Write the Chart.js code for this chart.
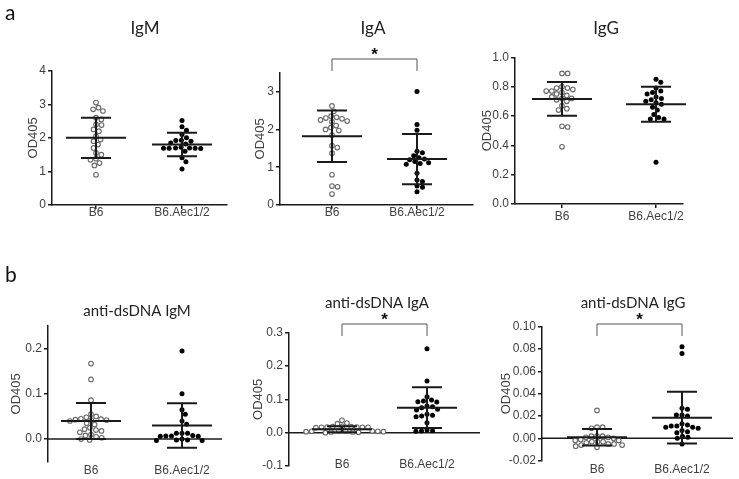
<!DOCTYPE html>
<html>
<head>
<meta charset="utf-8">
<script src="https://cdn.jsdelivr.net/npm/chart.js@4"></script>
<style>
body { margin: 0; background: #fff; }
#wrap { position: relative; width: 739px; height: 479px; overflow: hidden; }
#wrap canvas { position: absolute; left: 0; top: 0; }
.lbl { position: absolute; font: 21px Lato, sans-serif; color: #111; }
</style>
</head>
<body>
<div id="wrap">
  <canvas id="c0" width="739" height="479"></canvas>
  <canvas id="c1" width="739" height="479"></canvas>
  <canvas id="c2" width="739" height="479"></canvas>
  <canvas id="c3" width="739" height="479"></canvas>
  <canvas id="c4" width="739" height="479"></canvas>
  <canvas id="c5" width="739" height="479"></canvas>
  <div class="lbl" style="left:5px;top:-1px">a</div>
  <div class="lbl" style="left:5px;top:261px">b</div>
</div>
<script>
var groups = ["B6", "B6.Aec1/2"];
var titles = ["IgM", "IgA", "IgG", "anti-dsDNA IgM", "anti-dsDNA IgA", "anti-dsDNA IgG"];

// OD405 values, one array per group
var igmB6  = [3.05, 2.9, 2.85, 2.8, 2.6, 2.55, 2.4, 2.38, 2.25, 2.2, 2.05, 1.95, 1.9, 1.8, 1.7, 1.55, 1.5, 1.38, 1.35, 1.25, 1.18, 0.9];
var igmAec = [2.52, 2.33, 2.23, 2.1, 2.0, 1.93, 1.92, 1.9, 1.85, 1.82, 1.72, 1.7, 1.69, 1.69, 1.69, 1.68, 1.7, 1.6, 1.41, 1.29, 1.07];
var igaB6  = [2.62, 2.48, 2.35, 2.32, 2.3, 2.28, 2.25, 2.22, 2.2, 2.1, 2.05, 2.0, 1.97, 1.85, 1.57, 1.52, 1.37, 0.8, 0.5, 0.48, 0.29];
var igaAec = [3.0, 2.13, 1.98, 1.42, 1.38, 1.3, 1.25, 1.22, 1.2, 1.15, 1.12, 1.1, 1.08, 0.84, 0.66, 0.62, 0.5, 0.47, 0.35];
var iggB6  = [0.89, 0.89, 0.80, 0.79, 0.79, 0.78, 0.77, 0.77, 0.76, 0.75, 0.74, 0.73, 0.72, 0.72, 0.71, 0.70, 0.67, 0.65, 0.64, 0.53, 0.525, 0.39];
var iggAec = [0.85, 0.83, 0.79, 0.77, 0.76, 0.75, 0.73, 0.72, 0.71, 0.70, 0.69, 0.68, 0.66, 0.64, 0.61, 0.59, 0.58, 0.58, 0.285];
var dsIgmB6  = [0.167, 0.132, 0.086, 0.055, 0.05, 0.048, 0.045, 0.044, 0.043, 0.042, 0.042, 0.04, 0.035, 0.032, 0.025, 0.022, 0.02, 0.018, 0.015, 0.01, 0.008, 0.005, 0.003, 0.0, -0.002];
var dsIgmAec = [0.195, 0.1, 0.065, 0.055, 0.04, 0.033, 0.013, 0.013, 0.013, 0.008, 0.007, 0.006, 0.007, 0.006, 0.0, -0.002, -0.003, -0.003, -0.002];
var dsIgaB6  = [0.037, 0.029, 0.027, 0.019, 0.018, 0.018, 0.017, 0.017, 0.016, 0.016, 0.016, 0.015, 0.006, 0.005, 0.005, 0.004, 0.004, 0.003, 0.003, 0.002, 0.002, 0.001, 0.0];
var dsIgaAec = [0.252, 0.155, 0.108, 0.098, 0.095, 0.093, 0.092, 0.08, 0.078, 0.075, 0.07, 0.068, 0.055, 0.052, 0.05, 0.048, 0.03, 0.008, 0.006, 0.005, 0.004];
var dsIggB6  = [0.025, 0.01, 0.01, 0.009, 0.002, 0.002, 0.002, 0.001, 0.001, 0.0, -0.001, -0.002, -0.002, -0.003, -0.003, -0.003, -0.004, -0.005, -0.005, -0.006, -0.006, -0.007, -0.008];
var dsIggAec = [0.082, 0.076, 0.027, 0.026, 0.021, 0.021, 0.02, 0.013, 0.012, 0.011, 0.011, 0.01, 0.01, 0.009, 0.007, 0.006, 0.005, 0.002, 0.001, 0.0, -0.005];

// mean and SD bars as drawn
var meanB6  = [2.0, 1.82, 0.716, 0.04, 0.01, 0.001];
var sdB6    = [0.6, 0.68, 0.115, 0.04, 0.009, 0.0073];
var meanAec = [1.8, 1.215, 0.68, 0.03, 0.075, 0.0185];
var sdAec   = [0.35, 0.665, 0.12, 0.049, 0.061, 0.0232];

var yTicks = [
  [0, 1, 2, 3, 4],
  [0, 1, 2, 3],
  [0, 0.2, 0.4, 0.6, 0.8, 1.0],
  [0, 0.1, 0.2],
  [-0.1, 0, 0.1, 0.2, 0.3],
  [-0.02, 0, 0.02, 0.04, 0.06, 0.08, 0.10]
];
var signif = [false, true, false, false, true, true];

var seriesB6  = [igmB6, igaB6, iggB6, dsIgmB6, dsIgaB6, dsIggB6];
var seriesAec = [igmAec, igaAec, iggAec, dsIgmAec, dsIgaAec, dsIggAec];

// panel geometry (page pixels)
var panels = [
  {L: 52,  R: 227, T: 70.7,  B: 205,   min: 0,     max: 4,    dec: 0, c1: 96,  c2: 182, tx: 145, ty: 29,  tf: 17, yt: 21.5, xl: 213, zero: false, br: 59},
  {L: 280, R: 473, T: 72.7,  B: 205,   min: 0,     max: 3.5,  dec: 0, c1: 332, c2: 417, tx: 373, ty: 29,  tf: 17, yt: 20.7, xl: 213, zero: false, br: 59},
  {L: 515, R: 683, T: 57.3,  B: 204,   min: 0,     max: 1.0,  dec: 1, c1: 562, c2: 656, tx: 606, ty: 29,  tf: 17, yt: 12.7, xl: 217, zero: false, br: 0},
  {L: 48,  R: 222, T: 326,   B: 461.7, min: -0.05, max: 0.25, dec: 1, c1: 91,  c2: 182, tx: 137, ty: 311, tf: 15, yt: 8.2,  xl: 471, zero: true,  br: 0},
  {L: 289, R: 480, T: 332.7, B: 466,   min: -0.1,  max: 0.3,  dec: 1, c1: 342, c2: 427, tx: 377, ty: 303, tf: 15, yt: 9.2,  xl: 465, zero: true,  br: 324},
  {L: 542, R: 733, T: 326.7, B: 460.7, min: -0.02, max: 0.10, dec: 2, c1: 597, c2: 682, tx: 633, ty: 303, tf: 15, yt: 4.9,  xl: 470, zero: true,  br: 324}
];

var fontFam = "'Liberation Sans', Arial, sans-serif";
var tickFont = {family: fontFam, size: 12};
var ink = "#1a1a1a";
var grey = "#404040";

// simple beeswarm: returns horizontal pixel offsets
function swarm(vals, pxPerY, dia) {
  var placed = [];
  var offs = new Array(vals.length);
  var order = vals.map(function (v, i) { return i; }).sort(function (a, b) { return vals[b] - vals[a]; });
  order.forEach(function (i) {
    var py = vals[i] * pxPerY;
    var cands = [0];
    placed.forEach(function (p) {
      var dy = Math.abs(p.y - py);
      if (dy < dia) {
        var dx = Math.sqrt(dia * dia - dy * dy) + 0.01;
        cands.push(p.x + dx, p.x - dx);
      }
    });
    cands.sort(function (a, b) { return Math.abs(a) - Math.abs(b); });
    var best = 0;
    for (var k = 0; k < cands.length; k++) {
      var ok = placed.every(function (p) {
        return Math.hypot(p.x - cands[k], p.y - py) >= dia - 0.001;
      });
      if (ok) { best = cands[k]; break; }
    }
    placed.push({x: best, y: py});
    offs[i] = best;
  });
  return offs;
}

var dotPlot = {
  id: "dotPlot",
  beforeDatasetsDraw: function (chart, args, o) {
    if (!o.zero) return;
    var ctx = chart.ctx, ys = chart.scales.y, a = chart.chartArea;
    var y0 = ys.getPixelForValue(0);
    ctx.save();
    ctx.strokeStyle = ink;
    ctx.lineWidth = 1.5;
    ctx.beginPath();
    ctx.moveTo(a.left, y0);
    ctx.lineTo(a.right, y0);
    ctx.stroke();
    ctx.restore();
  },
  afterDatasetsDraw: function (chart, args, o) {
    var ctx = chart.ctx, xs = chart.scales.x, ys = chart.scales.y;
    ctx.save();
    ctx.strokeStyle = ink;
    ctx.lineWidth = 2;
    [[1, o.m[0], o.s[0]], [2, o.m[1], o.s[1]]].forEach(function (b) {
      var xp = xs.getPixelForValue(b[0]);
      var ym = ys.getPixelForValue(b[1]);
      var yu = ys.getPixelForValue(b[1] + b[2]);
      var yl = ys.getPixelForValue(b[1] - b[2]);
      ctx.beginPath();
      ctx.moveTo(xp - 30, ym); ctx.lineTo(xp + 30, ym);
      ctx.moveTo(xp - 15, yu); ctx.lineTo(xp + 15, yu);
      ctx.moveTo(xp - 15, yl); ctx.lineTo(xp + 15, yl);
      ctx.moveTo(xp, yu); ctx.lineTo(xp, yl);
      ctx.stroke();
    });
    ctx.restore();
  },
  afterDraw: function (chart, args, o) {
    var ctx = chart.ctx, xs = chart.scales.x;
    ctx.save();
    ctx.textAlign = "center";
    ctx.textBaseline = "middle";
    // panel b: category labels sit beside the bottom of the y axis
    if (o.zero) {
      ctx.fillStyle = grey;
      ctx.font = "12px " + fontFam;
      groups.forEach(function (g, k) {
        ctx.fillText(g, xs.getPixelForValue(k + 1), o.xl);
      });
    }
    ctx.fillStyle = "#222";
    ctx.font = o.tf + "px Lato, sans-serif";
    ctx.fillText(o.title, o.tx, o.ty);
    if (o.sig) {
      var x1 = xs.getPixelForValue(1), x2 = xs.getPixelForValue(2);
      ctx.strokeStyle = "#555";
      ctx.lineWidth = 1;
      ctx.beginPath();
      ctx.moveTo(x1, o.br + 12);
      ctx.lineTo(x1, o.br);
      ctx.lineTo(x2, o.br);
      ctx.lineTo(x2, o.br + 12);
      ctx.stroke();
      ctx.fillStyle = "#111";
      ctx.font = "bold 17px " + fontFam;
      ctx.fillText("*", (x1 + x2) / 2, o.br - 4);
    }
    ctx.restore();
  }
};

panels.forEach(function (p, i) {
  var unit = p.c2 - p.c1;
  var xmin = 1 - (p.c1 - p.L) / unit;
  var xmax = xmin + (p.R - p.L) / unit;
  var pxPerY = (p.B - p.T) / (p.max - p.min);
  var offB6 = swarm(seriesB6[i], pxPerY, 5.6);
  var offAec = swarm(seriesAec[i], pxPerY, 5.6);
  var xh = p.zero ? 10 : 479 - p.B - 2;

  new Chart(document.getElementById("c" + i), {
    type: "scatter",
    data: {
      datasets: [{
        label: groups[0],
        data: seriesB6[i].map(function (v, k) { return {x: 1 + offB6[k] / unit, y: v}; }),
        pointRadius: 2.3,
        pointBorderWidth: 1.1,
        borderColor: "#6a6a6a",
        backgroundColor: "#fff",
        clip: false
      }, {
        label: groups[1],
        data: seriesAec[i].map(function (v, k) { return {x: 2 + offAec[k] / unit, y: v}; }),
        pointRadius: 2.5,
        pointBorderWidth: 0,
        borderColor: "#000",
        backgroundColor: "#000",
        clip: false
      }]
    },
    options: {
      responsive: false,
      animation: false,
      events: [],
      layout: {padding: {left: p.L - 48, top: p.T, right: 739 - p.R, bottom: 479 - p.B - xh}},
      plugins: {
        legend: {display: false},
        tooltip: {enabled: false},
        dotPlot: {
          m: [meanB6[i], meanAec[i]], s: [sdB6[i], sdAec[i]],
          zero: p.zero, title: titles[i], tx: p.tx, ty: p.ty, tf: p.tf,
          sig: signif[i], br: p.br, xl: p.xl
        }
      },
      scales: {
        x: {
          type: "linear",
          min: xmin,
          max: xmax,
          afterBuildTicks: function (s) { s.ticks = [{value: 1}, {value: 2}]; },
          afterFit: function (s) { s.height = xh; },
          ticks: {
            display: !p.zero,
            callback: function (v) { return groups[Math.round(v) - 1]; },
            font: tickFont, color: grey, maxRotation: 0, autoSkip: false,
            padding: p.xl - p.B - 4 - 7.2
          },
          grid: {display: !p.zero, drawOnChartArea: false, tickLength: 4, color: ink, lineWidth: 1.5},
          border: {display: !p.zero, color: ink, width: 1.5}
        },
        y: {
          min: p.min,
          max: p.max,
          afterBuildTicks: function (s) { s.ticks = yTicks[i].map(function (v) { return {value: v}; }); },
          afterFit: function (s) { s.width = 48; },
          ticks: {
            callback: function (v) { return Number(v).toFixed(p.dec); },
            font: tickFont, color: grey, padding: 2
          },
          grid: {drawOnChartArea: false, tickLength: 4, color: ink, lineWidth: 1.5},
          border: {color: ink, width: 1.5},
          title: {
            display: true, text: "OD405", color: grey,
            font: {family: fontFam, size: 13},
            padding: {top: p.yt, bottom: 0}
          }
        }
      }
    },
    plugins: [dotPlot]
  });
});
</script>
</body>
</html>
